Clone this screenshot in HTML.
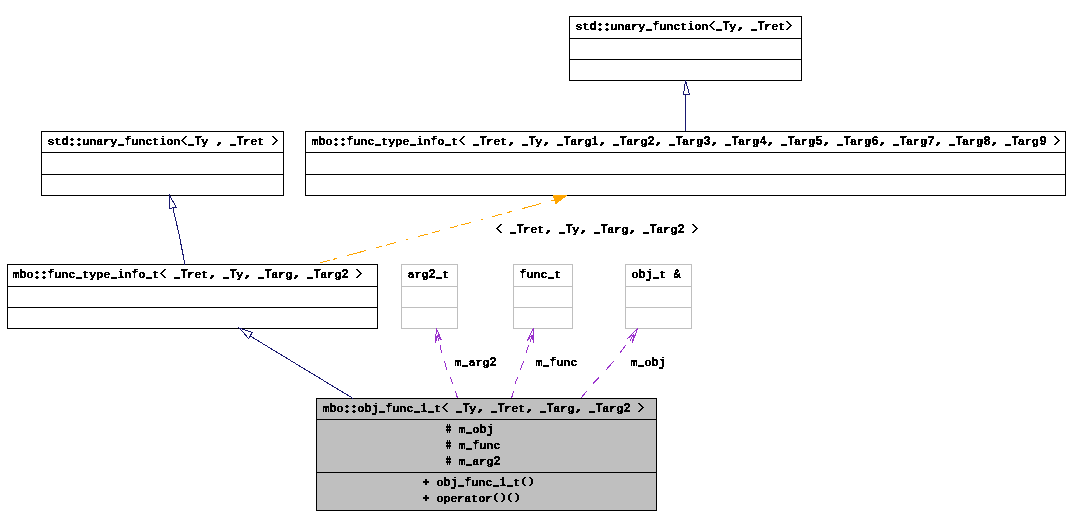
<!DOCTYPE html>
<html><head><meta charset="utf-8"><title>class diagram</title>
<style>
html,body{margin:0;padding:0;background:#fff;width:1071px;height:527px;overflow:hidden}
svg{display:block}
text{font-family:"Liberation Mono",monospace;font-weight:bold;font-size:12.0px;letter-spacing:-0.200px;fill:#000;stroke:#000;stroke-width:0.25px;white-space:pre}
.b{fill:none;stroke:#000;stroke-width:1;shape-rendering:crispEdges}
.g{fill:none;stroke:#bfbfbf;stroke-width:1;shape-rendering:crispEdges}
.e{shape-rendering:crispEdges}
.p{stroke-width:1.0px}
.q{stroke-width:0.5px}
</style></head>
<body>
<svg width="1071" height="527" viewBox="0 0 1071 527">
<defs><filter id="bin" x="-5%" y="-30%" width="110%" height="160%" color-interpolation-filters="sRGB"><feComponentTransfer><feFuncA type="discrete" tableValues="0 1"/></feComponentTransfer></filter></defs>
<rect x="0" y="0" width="1071" height="527" fill="#fff"/>

<rect class="b" x="569.5" y="16.5" width="232" height="64"/>
<line class="b" x1="569" y1="38.5" x2="802" y2="38.5"/>
<line class="b" x1="569" y1="59.5" x2="802" y2="59.5"/>
<rect class="b" x="41.5" y="131.5" width="242" height="64"/>
<line class="b" x1="41" y1="152.5" x2="284" y2="152.5"/>
<line class="b" x1="41" y1="174.5" x2="284" y2="174.5"/>
<rect class="b" x="305.5" y="131.5" width="760" height="64"/>
<line class="b" x1="305" y1="152.5" x2="1066" y2="152.5"/>
<line class="b" x1="305" y1="174.5" x2="1066" y2="174.5"/>
<rect class="b" x="7.5" y="264.5" width="370" height="64"/>
<line class="b" x1="7" y1="286.5" x2="378" y2="286.5"/>
<line class="b" x1="7" y1="307.5" x2="378" y2="307.5"/>
<rect class="g" x="401.5" y="264.5" width="56" height="64"/>
<line class="g" x1="401" y1="286.5" x2="458" y2="286.5"/>
<line class="g" x1="401" y1="307.5" x2="458" y2="307.5"/>
<rect class="g" x="513.5" y="264.5" width="59" height="64"/>
<line class="g" x1="513" y1="286.5" x2="573" y2="286.5"/>
<line class="g" x1="513" y1="307.5" x2="573" y2="307.5"/>
<rect class="g" x="625.5" y="264.5" width="66" height="64"/>
<line class="g" x1="625" y1="286.5" x2="692" y2="286.5"/>
<line class="g" x1="625" y1="307.5" x2="692" y2="307.5"/>
<rect x="316" y="398" width="341" height="113" fill="#bfbfbf"/>
<rect class="b" x="316.5" y="398.5" width="340" height="112"/>
<line class="b" x1="316" y1="419.5" x2="657" y2="419.5"/>
<line class="b" x1="316" y1="472.5" x2="657" y2="472.5"/>
<text filter="url(#bin)" style="font-size:11.667px;letter-spacing:-0.000px;stroke-width:0.3px" x="575.4" y="30">st   unary  unct on   y    ret </text>
<text filter="url(#bin)" x="575.4" y="30">  d        f    i    T    T    </text>
<text filter="url(#bin)" style="font-size:11.667px;letter-spacing:-0.000px;stroke-width:0.3px" x="47.4" y="145">st   unary  unct on   y     ret  </text>
<text filter="url(#bin)" x="47.4" y="145">  d        f    i    T     T     </text>
<text filter="url(#bin)" style="font-size:11.667px;letter-spacing:-0.000px;stroke-width:0.3px" x="311.4" y="145">m o   unc type  n o t    ret    y    arg     arg     arg     arg     arg     arg     arg     arg     arg   </text>
<text filter="url(#bin)" x="311.4" y="145"> b   f         i f      T      T    T   1   T   2   T   3   T   4   T   5   T   6   T   7   T   8   T   9  </text>
<text filter="url(#bin)" style="font-size:11.667px;letter-spacing:-0.000px;stroke-width:0.3px" x="12.4" y="278">m o   unc type  n o t    ret    y    arg    arg   </text>
<text filter="url(#bin)" x="12.4" y="278"> b   f         i f      T      T    T      T   2  </text>
<text filter="url(#bin)" style="font-size:11.667px;letter-spacing:-0.000px;stroke-width:0.3px" x="407.4" y="278">arg  t</text>
<text filter="url(#bin)" x="407.4" y="278">   2  </text>
<text filter="url(#bin)" style="font-size:11.667px;letter-spacing:-0.000px;stroke-width:0.3px" x="519.4" y="278"> unc t</text>
<text filter="url(#bin)" x="519.4" y="278">f     </text>
<text filter="url(#bin)" style="font-size:11.667px;letter-spacing:-0.000px;stroke-width:0.3px" x="631.4" y="278">o   t  </text>
<text filter="url(#bin)" x="631.4" y="278"> bj   &amp;</text>
<text filter="url(#bin)" style="font-size:11.667px;letter-spacing:-0.000px;stroke-width:0.3px" x="322.4" y="412">m o  o    unc   t    y    ret    arg    arg   </text>
<text filter="url(#bin)" x="322.4" y="412"> b    bj f    1     T    T      T      T   2  </text>
<text filter="url(#bin)" style="font-size:11.667px;letter-spacing:-0.000px;stroke-width:0.3px" x="444.4" y="433">  m o  </text>
<text filter="url(#bin)" x="444.4" y="433">     bj</text>
<text filter="url(#bin)" style="font-size:11.667px;letter-spacing:-0.000px;stroke-width:0.3px" x="444.4" y="449">  m  unc</text>
<text filter="url(#bin)" x="444.4" y="449">    f   </text>
<text filter="url(#bin)" style="font-size:11.667px;letter-spacing:-0.000px;stroke-width:0.3px" x="444.4" y="465">  m arg </text>
<text filter="url(#bin)" x="444.4" y="465">       2</text>
<text filter="url(#bin)" style="font-size:11.667px;letter-spacing:-0.000px;stroke-width:0.3px" x="422.4" y="486">  o    unc   t  </text>
<text filter="url(#bin)" x="422.4" y="486">   bj f    1    </text>
<text filter="url(#bin)" style="font-size:11.667px;letter-spacing:-0.000px;stroke-width:0.3px" x="422.4" y="502">  operator    </text>
<text filter="url(#bin)" style="font-size:11.667px;letter-spacing:-0.000px;stroke-width:0.3px" x="495.4" y="233">    ret    y    arg    arg   </text>
<text filter="url(#bin)" x="495.4" y="233">   T      T    T      T   2  </text>
<text filter="url(#bin)" style="font-size:11.667px;letter-spacing:-0.000px;stroke-width:0.3px" x="454.4" y="366">m arg </text>
<text filter="url(#bin)" x="454.4" y="366">     2</text>
<text filter="url(#bin)" style="font-size:11.667px;letter-spacing:-0.000px;stroke-width:0.3px" x="535.4" y="366">m  unc</text>
<text filter="url(#bin)" x="535.4" y="366">  f   </text>
<text filter="url(#bin)" style="font-size:11.667px;letter-spacing:-0.000px;stroke-width:0.3px" x="630.4" y="366">m o  </text>
<text filter="url(#bin)" x="630.4" y="366">   bj</text>
<path fill="#000" d="M646,29h6v2h-6zM716,29h6v2h-6zM751,29h6v2h-6zM713,21h2v1h-2zM712,22h2v1h-2zM711,23h2v1h-2zM710,24h2v1h-2zM709,25h2v1h-2zM710,26h2v1h-2zM711,27h2v1h-2zM712,28h2v1h-2zM713,29h2v1h-2zM786,21h2v1h-2zM787,22h2v1h-2zM788,23h2v1h-2zM789,24h2v1h-2zM790,25h2v1h-2zM789,26h2v1h-2zM788,27h2v1h-2zM787,28h2v1h-2zM786,29h2v1h-2zM599,23h2v1h-2zM598,24h4v1h-4zM599,25h2v1h-2zM599,28h2v1h-2zM598,29h4v1h-4zM599,30h2v1h-2zM606,23h2v1h-2zM605,24h4v1h-4zM606,25h2v1h-2zM606,28h2v1h-2zM605,29h4v1h-4zM606,30h2v1h-2zM739,27h3v2h-3zM738,29h3v1h-3zM738,30h2v1h-2zM118,144h6v2h-6zM188,144h6v2h-6zM230,144h6v2h-6zM185,136h2v1h-2zM184,137h2v1h-2zM183,138h2v1h-2zM182,139h2v1h-2zM181,140h2v1h-2zM182,141h2v1h-2zM183,142h2v1h-2zM184,143h2v1h-2zM185,144h2v1h-2zM272,136h2v1h-2zM273,137h2v1h-2zM274,138h2v1h-2zM275,139h2v1h-2zM276,140h2v1h-2zM275,141h2v1h-2zM274,142h2v1h-2zM273,143h2v1h-2zM272,144h2v1h-2zM71,138h2v1h-2zM70,139h4v1h-4zM71,140h2v1h-2zM71,143h2v1h-2zM70,144h4v1h-4zM71,145h2v1h-2zM78,138h2v1h-2zM77,139h4v1h-4zM78,140h2v1h-2zM78,143h2v1h-2zM77,144h4v1h-4zM78,145h2v1h-2zM218,142h3v2h-3zM217,144h3v1h-3zM217,145h2v1h-2zM375,144h6v2h-6zM410,144h6v2h-6zM445,144h6v2h-6zM473,144h6v2h-6zM522,144h6v2h-6zM557,144h6v2h-6zM613,144h6v2h-6zM669,144h6v2h-6zM725,144h6v2h-6zM781,144h6v2h-6zM837,144h6v2h-6zM893,144h6v2h-6zM949,144h6v2h-6zM1005,144h6v2h-6zM463,136h2v1h-2zM462,137h2v1h-2zM461,138h2v1h-2zM460,139h2v1h-2zM459,140h2v1h-2zM460,141h2v1h-2zM461,142h2v1h-2zM462,143h2v1h-2zM463,144h2v1h-2zM1054,136h2v1h-2zM1055,137h2v1h-2zM1056,138h2v1h-2zM1057,139h2v1h-2zM1058,140h2v1h-2zM1057,141h2v1h-2zM1056,142h2v1h-2zM1055,143h2v1h-2zM1054,144h2v1h-2zM335,138h2v1h-2zM334,139h4v1h-4zM335,140h2v1h-2zM335,143h2v1h-2zM334,144h4v1h-4zM335,145h2v1h-2zM342,138h2v1h-2zM341,139h4v1h-4zM342,140h2v1h-2zM342,143h2v1h-2zM341,144h4v1h-4zM342,145h2v1h-2zM510,142h3v2h-3zM509,144h3v1h-3zM509,145h2v1h-2zM545,142h3v2h-3zM544,144h3v1h-3zM544,145h2v1h-2zM601,142h3v2h-3zM600,144h3v1h-3zM600,145h2v1h-2zM657,142h3v2h-3zM656,144h3v1h-3zM656,145h2v1h-2zM713,142h3v2h-3zM712,144h3v1h-3zM712,145h2v1h-2zM769,142h3v2h-3zM768,144h3v1h-3zM768,145h2v1h-2zM825,142h3v2h-3zM824,144h3v1h-3zM824,145h2v1h-2zM881,142h3v2h-3zM880,144h3v1h-3zM880,145h2v1h-2zM937,142h3v2h-3zM936,144h3v1h-3zM936,145h2v1h-2zM993,142h3v2h-3zM992,144h3v1h-3zM992,145h2v1h-2zM76,277h6v2h-6zM111,277h6v2h-6zM146,277h6v2h-6zM174,277h6v2h-6zM223,277h6v2h-6zM258,277h6v2h-6zM307,277h6v2h-6zM164,269h2v1h-2zM163,270h2v1h-2zM162,271h2v1h-2zM161,272h2v1h-2zM160,273h2v1h-2zM161,274h2v1h-2zM162,275h2v1h-2zM163,276h2v1h-2zM164,277h2v1h-2zM356,269h2v1h-2zM357,270h2v1h-2zM358,271h2v1h-2zM359,272h2v1h-2zM360,273h2v1h-2zM359,274h2v1h-2zM358,275h2v1h-2zM357,276h2v1h-2zM356,277h2v1h-2zM36,271h2v1h-2zM35,272h4v1h-4zM36,273h2v1h-2zM36,276h2v1h-2zM35,277h4v1h-4zM36,278h2v1h-2zM43,271h2v1h-2zM42,272h4v1h-4zM43,273h2v1h-2zM43,276h2v1h-2zM42,277h4v1h-4zM43,278h2v1h-2zM211,275h3v2h-3zM210,277h3v1h-3zM210,278h2v1h-2zM246,275h3v2h-3zM245,277h3v1h-3zM245,278h2v1h-2zM295,275h3v2h-3zM294,277h3v1h-3zM294,278h2v1h-2zM436,277h6v2h-6zM548,277h6v2h-6zM653,277h6v2h-6zM379,411h6v2h-6zM414,411h6v2h-6zM428,411h6v2h-6zM456,411h6v2h-6zM491,411h6v2h-6zM540,411h6v2h-6zM589,411h6v2h-6zM446,403h2v1h-2zM445,404h2v1h-2zM444,405h2v1h-2zM443,406h2v1h-2zM442,407h2v1h-2zM443,408h2v1h-2zM444,409h2v1h-2zM445,410h2v1h-2zM446,411h2v1h-2zM638,403h2v1h-2zM639,404h2v1h-2zM640,405h2v1h-2zM641,406h2v1h-2zM642,407h2v1h-2zM641,408h2v1h-2zM640,409h2v1h-2zM639,410h2v1h-2zM638,411h2v1h-2zM346,405h2v1h-2zM345,406h4v1h-4zM346,407h2v1h-2zM346,410h2v1h-2zM345,411h4v1h-4zM346,412h2v1h-2zM353,405h2v1h-2zM352,406h4v1h-4zM353,407h2v1h-2zM353,410h2v1h-2zM352,411h4v1h-4zM353,412h2v1h-2zM479,409h3v2h-3zM478,411h3v1h-3zM478,412h2v1h-2zM528,409h3v2h-3zM527,411h3v1h-3zM527,412h2v1h-2zM577,409h3v2h-3zM576,411h3v1h-3zM576,412h2v1h-2zM466,432h6v2h-6zM447,424h1v9h-1zM449,424h1v9h-1zM446,426h5v2h-5zM446,429h5v2h-5zM466,448h6v2h-6zM447,440h1v9h-1zM449,440h1v9h-1zM446,442h5v2h-5zM446,445h5v2h-5zM466,464h6v2h-6zM447,456h1v9h-1zM449,456h1v9h-1zM446,458h5v2h-5zM446,461h5v2h-5zM458,485h6v2h-6zM493,485h6v2h-6zM507,485h6v2h-6zM425,479h2v6h-2zM423,481h6v2h-6zM524,477h2v1h-2zM523,478h2v1h-2zM522,479h2v1h-2zM522,480h2v1h-2zM522,481h2v1h-2zM522,482h2v1h-2zM522,483h2v1h-2zM523,484h2v1h-2zM524,485h2v1h-2zM529,477h2v1h-2zM530,478h2v1h-2zM531,479h2v1h-2zM531,480h2v1h-2zM531,481h2v1h-2zM531,482h2v1h-2zM531,483h2v1h-2zM530,484h2v1h-2zM529,485h2v1h-2zM425,495h2v6h-2zM423,497h6v2h-6zM496,493h2v1h-2zM495,494h2v1h-2zM494,495h2v1h-2zM494,496h2v1h-2zM494,497h2v1h-2zM494,498h2v1h-2zM494,499h2v1h-2zM495,500h2v1h-2zM496,501h2v1h-2zM501,493h2v1h-2zM502,494h2v1h-2zM503,495h2v1h-2zM503,496h2v1h-2zM503,497h2v1h-2zM503,498h2v1h-2zM503,499h2v1h-2zM502,500h2v1h-2zM501,501h2v1h-2zM510,493h2v1h-2zM509,494h2v1h-2zM508,495h2v1h-2zM508,496h2v1h-2zM508,497h2v1h-2zM508,498h2v1h-2zM508,499h2v1h-2zM509,500h2v1h-2zM510,501h2v1h-2zM515,493h2v1h-2zM516,494h2v1h-2zM517,495h2v1h-2zM517,496h2v1h-2zM517,497h2v1h-2zM517,498h2v1h-2zM517,499h2v1h-2zM516,500h2v1h-2zM515,501h2v1h-2zM510,232h6v2h-6zM559,232h6v2h-6zM594,232h6v2h-6zM643,232h6v2h-6zM500,224h2v1h-2zM499,225h2v1h-2zM498,226h2v1h-2zM497,227h2v1h-2zM496,228h2v1h-2zM497,229h2v1h-2zM498,230h2v1h-2zM499,231h2v1h-2zM500,232h2v1h-2zM692,224h2v1h-2zM693,225h2v1h-2zM694,226h2v1h-2zM695,227h2v1h-2zM696,228h2v1h-2zM695,229h2v1h-2zM694,230h2v1h-2zM693,231h2v1h-2zM692,232h2v1h-2zM547,230h3v2h-3zM546,232h3v1h-3zM546,233h2v1h-2zM582,230h3v2h-3zM581,232h3v1h-3zM581,233h2v1h-2zM631,230h3v2h-3zM630,232h3v1h-3zM630,233h2v1h-2zM462,365h6v2h-6zM543,365h6v2h-6zM638,365h6v2h-6z"/>
<g fill="none" stroke="#191970" stroke-width="1" shape-rendering="crispEdges">
<path d="M685.5,131 L685.5,94.5"/>
<polygon points="685.5,80.5 683.5,94.5 689.5,94.5"/>
<path d="M184.8,264.5 C182,248 178,228 173,208.4"/>
<polygon points="169.8,196 169.6,208.4 176.4,207.3"/>
<path d="M353,398.4 C320,378 285,357 250,335.9"/>
<polygon points="239.8,328.3 248.5,338.5 252.3,332.5"/>
</g>
<path class="e" fill="none" stroke="#ffa500" d="M320,262.90L330,260.21M333,259.41L337,258.34M347,255.65L366,250.55M376,247.86L382,246.25M386,245.18L396,242.49M406,239.81L408,239.27M418,236.59L428,233.90M432,232.83L440,230.68M450,227.99L458,225.85M461,225.04L471,222.36M481,219.67L483,219.13M492,216.72L502,214.03M507,212.69L512,211.35M522,208.66L541,203.56M551,200.88L554,200.07"/>
<polygon points="552.6,194.6 568.4,194.6 555.6,204.4" fill="#ffa500" shape-rendering="crispEdges"/>
<path class="e" fill="none" stroke="#9a32cd" d="M440.20,345.00 L441.50,353.00M444.40,361.00 L446.60,369.60M450.40,377.20 L452.70,383.60M455.40,391.20 L457.60,398.40M528.50,345.00 L528.50,345.40 L526.30,352.60 L526.18,353.00M523.69,361.00 L523.60,361.30 L520.30,369.60M517.60,377.20 L515.20,383.60M513.70,391.20 L511.40,398.40M625.50,345.00 L625.50,345.40 L620.20,352.60 L619.89,353.00M613.70,361.00 L606.40,369.60M599.09,377.20 L598.70,377.60 L592.96,383.60M586.70,391.20 L580.60,398.40"/>
<g fill="none" stroke="#9a32cd" stroke-width="1" shape-rendering="crispEdges">
<polygon points="436.40,328.30 435.50,342.50 437.45,334.88 438.50,341.45 437.45,334.88 441.50,340.40"/>
<polygon points="533.50,328.30 527.40,340.40 531.98,334.92 530.45,341.55 531.98,334.92 533.50,342.70"/>
<polygon points="637.60,328.30 627.40,338.50 633.78,334.40 629.95,340.50 633.78,334.40 632.50,342.50"/>
</g>
</svg>
</body></html>
